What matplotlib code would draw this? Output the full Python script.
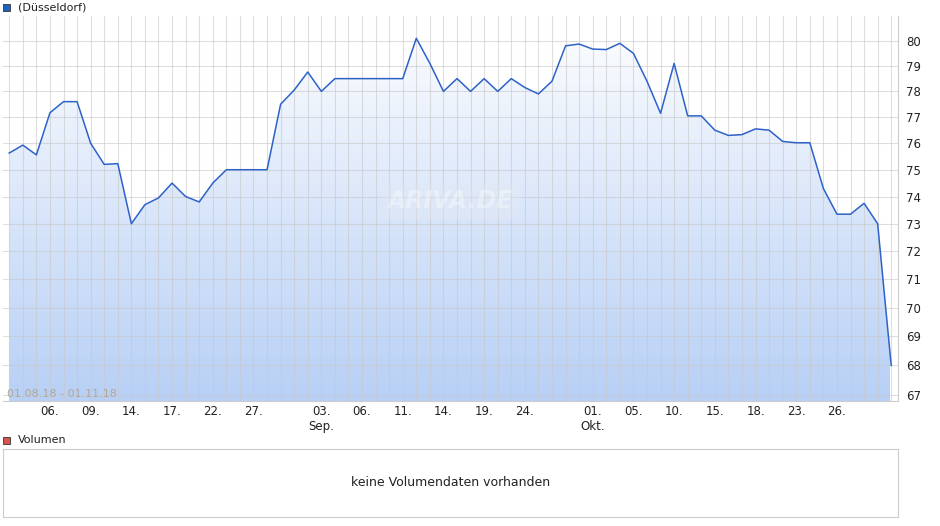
import numpy as np
import matplotlib.pyplot as plt
from matplotlib.patches import Rectangle
from matplotlib.ticker import FixedLocator, NullLocator

prices = [75.63, 75.93, 75.56, 77.17, 77.6, 77.6, 76.0, 75.2, 75.23, 73.0,
          73.7, 73.95, 74.5, 74.0, 73.8, 74.5, 75.0, 75.0, 75.0, 75.0,
          77.5, 78.05, 78.76, 78.0, 78.5, 78.5, 78.5, 78.5, 78.5, 78.5,
          80.1, 79.1, 78.0, 78.5, 78.0, 78.5, 78.0, 78.5, 78.15, 77.9,
          78.4, 79.8, 79.87, 79.67, 79.65, 79.9, 79.5, 78.4, 77.15, 79.1,
          77.05, 77.05, 76.5, 76.3, 76.33, 76.55, 76.5, 76.07, 76.02, 76.02,
          74.3, 73.35, 73.35, 73.75, 73.0, 68.0]
tick_idx = [3, 6, 9, 12, 15, 18, 23, 26, 29, 32, 35, 38, 43, 46, 49, 52, 55, 58, 61]
tick_lbl = ['06.', '09.', '14.', '17.', '22.', '27.', '03.\nSep.', '06.', '11.', '14.',
            '19.', '24.', '01.\nOkt.', '05.', '10.', '15.', '18.', '23.', '26.']
yticks = list(range(67, 81))

W, H = 940, 526
fig = plt.figure(figsize=(W / 100, H / 100), dpi=100)
ax = fig.add_axes([3 / W, 1 - 401 / H, 895 / W, 385 / H])
x = np.arange(len(prices))
ymin, ymax = 66.8, 81.0
ax.set_yscale('log')

# gradient fill under line
grad = np.linspace(0, 1, 256).reshape(-1, 1)
c_top = np.array([1.0, 1.0, 1.0])
c_bot = np.array([0xb8, 0xd0, 0xf6]) / 255
img = c_top + (c_bot - c_top) * grad
im = ax.imshow(img[:, None, :].repeat(2, axis=1), extent=[x[0], x[-1], ymin, ymax],
               aspect='auto', origin='upper', zorder=1, interpolation='bilinear')
poly = ax.fill_between(x, prices, ymin, color='none')
im.set_clip_path(poly.get_paths()[0], transform=ax.transData)
ax.set_xlim(-0.46, 65.5)
ax.set_ylim(ymin, ymax)

# grid lines, one per trading day
for xi in x:
    ax.axvline(xi, color='#c8c8c8', lw=0.8, alpha=0.6, zorder=2)
for yv in yticks:
    ax.axhline(yv, color='#c8c8c8', lw=0.8, alpha=0.6, zorder=2)

ax.plot(x, prices, color='#2d62c8', lw=1.1, zorder=3)

ax.xaxis.set_major_locator(FixedLocator(tick_idx))
ax.set_xticklabels(tick_lbl)
ax.xaxis.set_minor_locator(NullLocator())
ax.yaxis.set_major_locator(FixedLocator(yticks))
ax.yaxis.set_minor_locator(NullLocator())
ax.set_yticklabels([str(v) for v in yticks])
ax.yaxis.tick_right()
ax.tick_params(axis='both', which='both', length=0, labelsize=8.5, colors='#222222')
ax.tick_params(axis='y', pad=6)
ax.tick_params(axis='x', pad=3)
for s in ax.spines.values():
    s.set_color('#cccccc')
ax.spines['top'].set_visible(False)
ax.spines['left'].set_visible(False)

ax.text(0.005, 0.01, '01.08.18 - 01.11.18', transform=ax.transAxes, fontsize=8,
        color='#b0a898', zorder=5)
ax.text(0.5, 0.52, 'ARIVA.DE', transform=ax.transAxes, fontsize=17, color='#ffffff',
        alpha=0.35, style='italic', fontweight='bold', ha='center', va='center', zorder=2,
        bbox=dict(boxstyle='round,pad=0.3', fc='#e4e9f2', ec='none', alpha=0.35))

# legend headers
fig.patches.append(Rectangle((3 / W, 1 - 11 / H), 7 / W, 7 / H, transform=fig.transFigure,
                             facecolor='#1f5fc6', edgecolor='#333333', lw=0.6))
fig.text(18 / W, 1 - 7 / H, '(Düsseldorf)', fontsize=8, va='center', color='#222222')
fig.patches.append(Rectangle((3 / W, 1 - 444 / H), 7 / W, 7 / H, transform=fig.transFigure,
                             facecolor='#d9534f', edgecolor='#333333', lw=0.6))
fig.text(18 / W, 1 - 440 / H, 'Volumen', fontsize=8, va='center', color='#222222')

# volume panel
vax = fig.add_axes([3 / W, 1 - 517 / H, 895 / W, 68 / H])
vax.set_xticks([])
vax.set_yticks([])
for s in vax.spines.values():
    s.set_color('#cccccc')
vax.text(0.5, 0.5, 'keine Volumendaten vorhanden', ha='center', va='center',
         fontsize=9, color='#222222', transform=vax.transAxes)

fig.savefig('out.png', dpi=100)
